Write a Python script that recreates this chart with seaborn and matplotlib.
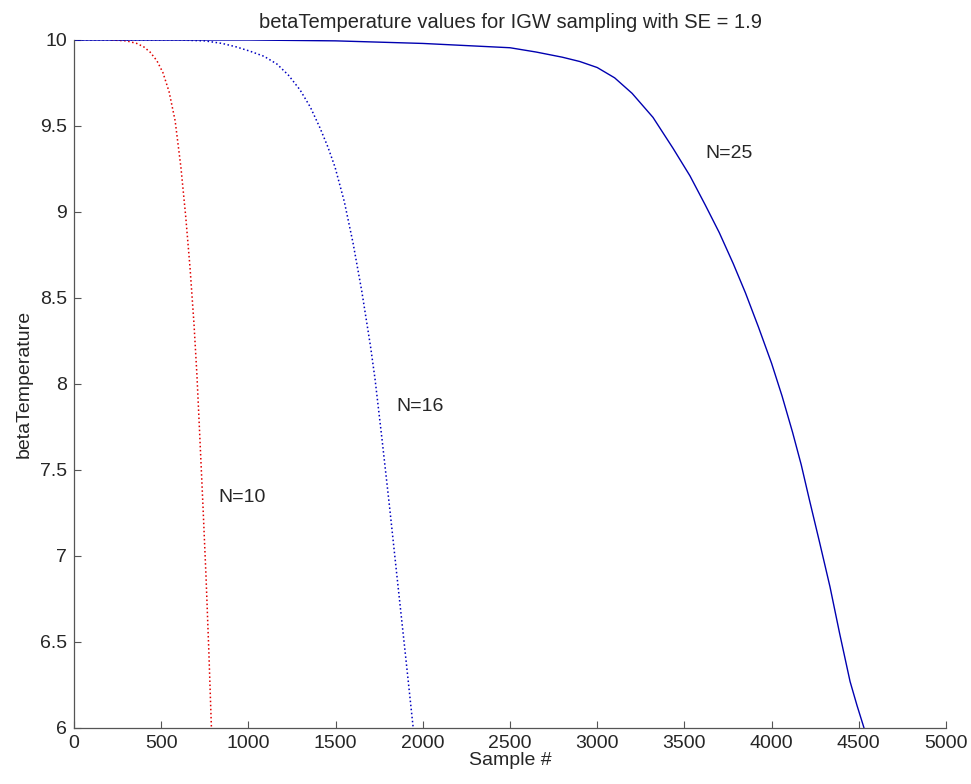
import pandas as pd
import matplotlib
matplotlib.use("Agg")
import matplotlib.pyplot as plt
import seaborn as sns

# values
n10_x = [218, 300, 360, 400, 436, 475, 510, 545, 580, 613, 640, 665, 688, 705, 722, 740, 757, 773, 788]
n10_y = [10.0, 9.995, 9.98, 9.96, 9.93, 9.88, 9.81, 9.70, 9.53, 9.26, 8.98, 8.68, 8.35, 8.05, 7.68, 7.28, 6.88, 6.45, 6.0]

n16_x = [0, 600, 750, 850, 930, 1009, 1090, 1164, 1230, 1296, 1355, 1410, 1455, 1497, 1550, 1600, 1650,
         1700, 1726, 1766, 1810, 1850, 1900, 1945]
n16_y = [10.0, 10.0, 9.995, 9.98, 9.96, 9.935, 9.905, 9.86, 9.795, 9.71, 9.61, 9.49, 9.38, 9.26, 9.06, 8.82, 8.54,
         8.22, 8.03, 7.68, 7.28, 6.90, 6.43, 6.0]

n25_x = [0, 1000, 1500, 2000, 2500, 2650, 2800, 2900, 3000, 3100, 3200, 3320, 3435, 3532, 3620, 3700, 3780,
         3850, 3925, 4000, 4060, 4120, 4170, 4216, 4275, 4335, 4390, 4450, 4490, 4530]
n25_y = [10.0, 10.0, 9.995, 9.98, 9.955, 9.93, 9.9, 9.875, 9.84, 9.78, 9.69, 9.55, 9.37, 9.21, 9.04, 8.88, 8.70,
         8.53, 8.33, 8.12, 7.93, 7.72, 7.53, 7.33, 7.08, 6.82, 6.55, 6.27, 6.13, 6.0]

x_ticks = list(range(0, 5001, 500))
y_ticks = [6, 6.5, 7, 7.5, 8, 8.5, 9, 9.5, 10]
y_labels = ["6", "6.5", "7", "7.5", "8", "8.5", "9", "9.5", "10"]

sns.set_style("ticks")
plt.rcParams['font.family'] = ['Liberation Sans', 'DejaVu Sans']

fig = plt.figure(figsize=(9.71, 7.84), dpi=100)
ax = fig.add_axes([74 / 971, 1 - 728 / 784, (946 - 74) / 971, (728 - 40) / 784])

df10 = pd.DataFrame({'x': n10_x, 'y': n10_y})
df16 = pd.DataFrame({'x': n16_x, 'y': n16_y})
df25 = pd.DataFrame({'x': n25_x, 'y': n25_y})

sns.lineplot(data=df10, x='x', y='y', ax=ax, color='#e00000', linestyle=':', linewidth=1.1)
sns.lineplot(data=df16, x='x', y='y', ax=ax, color='#0000c0', linestyle=':', linewidth=1.1)
sns.lineplot(data=df25, x='x', y='y', ax=ax, color='#0000b0', linewidth=1.0)

ax.text(830, 7.34, "N=10", fontsize=14, va='center', ha='left')
ax.text(1850, 7.87, "N=16", fontsize=14, va='center', ha='left')
ax.text(3620, 9.34, "N=25", fontsize=14, va='center', ha='left')

ax.set_xlim(0, 5000)
ax.set_ylim(6, 10)
ax.set_xticks(x_ticks)
ax.set_yticks(y_ticks)
ax.set_yticklabels(y_labels)
ax.tick_params(direction='in', length=5, width=0.8, color='#555555', labelsize=14, pad=5)

sns.despine(ax=ax)
for s in ['left', 'bottom']:
    ax.spines[s].set_color('#555555')
    ax.spines[s].set_linewidth(0.9)

ax.set_title("betaTemperature values for IGW sampling with SE = 1.9", fontsize=14.5, pad=9)
ax.set_xlabel("Sample #", fontsize=14, labelpad=0)
ax.set_ylabel("betaTemperature", fontsize=14, labelpad=5)

fig.savefig("out.png", dpi=100)
